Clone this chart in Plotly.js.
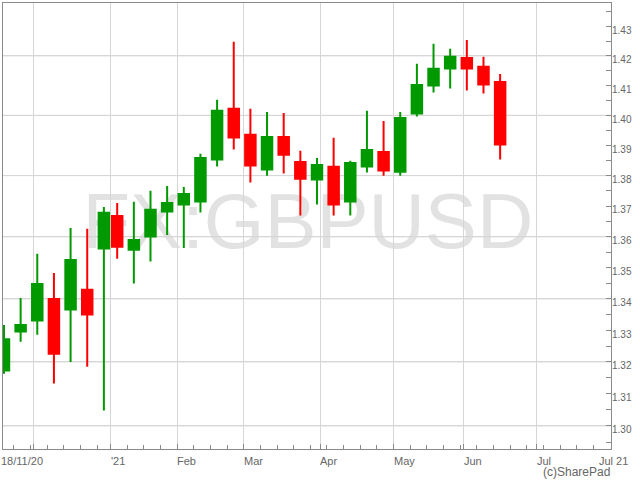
<!DOCTYPE html>
<html>
<head>
<meta charset="utf-8">
<script src="https://cdn.plot.ly/plotly-3.0.1.min.js"></script>
<style>
html,body{margin:0;padding:0;background:#fff;}
#chart{width:640px;height:480px;}
</style>
</head>
<body>
<div id="chart"></div>
<script>
// Weekly GBPUSD candles (each plotted at the Wednesday of its week)
const weekDates = ['2020-11-18','2020-11-25','2020-12-02','2020-12-09','2020-12-16','2020-12-23','2020-12-30',
  '2021-01-06','2021-01-13','2021-01-20','2021-01-27','2021-02-03','2021-02-10','2021-02-17','2021-02-24',
  '2021-03-03','2021-03-10','2021-03-17','2021-03-24','2021-03-31','2021-04-07','2021-04-14','2021-04-21',
  '2021-04-28','2021-05-05','2021-05-12','2021-05-19','2021-05-26','2021-06-02','2021-06-09','2021-06-16'];
const openVals  = [1.3173,1.3296,1.3331,1.3400,1.3366,1.3429,1.3562,1.3668,1.3558,1.3601,1.3682,1.3705,1.3715,1.3853,1.4022,1.3935,1.3820,1.3928,1.3845,1.3787,1.3829,1.3715,1.3830,1.3878,1.3813,1.4006,1.4100,1.4157,1.4193,1.4163,1.4112];
const highVals  = [1.3317,1.3403,1.3545,1.3483,1.3629,1.3626,1.3697,1.3710,1.3714,1.3750,1.3766,1.3763,1.3872,1.4052,1.4248,1.4022,1.4011,1.4008,1.3882,1.3858,1.3925,1.3849,1.4015,1.3981,1.4011,1.4173,1.4241,1.4224,1.4254,1.4197,1.4139];
const lowVals   = [1.3163,1.3264,1.3286,1.3132,1.3200,1.3185,1.3048,1.3529,1.3449,1.3520,1.3606,1.3564,1.3679,1.3830,1.3886,1.3777,1.3800,1.3807,1.3669,1.3705,1.3669,1.3669,1.3810,1.3800,1.3800,1.3996,1.4076,1.4090,1.4083,1.4073,1.3853];
const closeVals = [1.3272,1.3317,1.3448,1.3226,1.3525,1.3350,1.3678,1.3568,1.3590,1.3688,1.3710,1.3740,1.3858,1.4015,1.3926,1.3833,1.3928,1.3869,1.3790,1.3835,1.3705,1.3842,1.3885,1.3817,1.3991,1.4102,1.4156,1.4197,1.4157,1.4103,1.3903];

// Axis labels
const monthTicks  = ['2020-12-01','2021-01-04','2021-02-01','2021-03-01','2021-04-01','2021-05-03','2021-06-01','2021-07-01'];
const monthLabels = ['', "'21", 'Feb', 'Mar', 'Apr', 'May', 'Jun', 'Jul'];
const startLabel = '18/11/20';
const endLabel = 'Jul 21';
const yLabelVals = [1.30,1.31,1.32,1.33,1.34,1.35,1.36,1.37,1.38,1.39,1.40,1.41,1.42,1.43];
const yGridVals  = [1.30,1.32,1.34,1.36,1.38,1.40,1.42];
const watermark = 'FX:GBPUSD';
const credit = '(c)SharePad';

// minor ticks at every half step
const yMinorVals = [];
yLabelVals.forEach(v => { yMinorVals.push(+(v - 0.005).toFixed(3)); yMinorVals.push(v); });
yMinorVals.push(1.435);

const yRange = [Math.log10(1.29287), Math.log10(1.43802)];
const xRange = ['2020-11-17 17:00', '2021-08-02 07:00'];

const GREEN = '#009a00', RED = '#ff0000', LINE = '#8a8a8a', GRID = '#d6d6d6', TXT = '#666666';
const FONT = 'Liberation Sans, Arial, sans-serif';

const candles = {
  type: 'candlestick',
  x: weekDates, open: openVals, high: highVals, low: lowVals, close: closeVals,
  increasing: {line: {color: GREEN, width: 2}, fillcolor: GREEN},
  decreasing: {line: {color: RED, width: 2}, fillcolor: RED},
  whiskerwidth: 0, hoverinfo: 'skip', showlegend: false
};

const annotations = [];
const xLabelY = -0.027;
monthTicks.forEach((d, i) => {
  if (!monthLabels[i]) return;
  annotations.push({xref: 'x', yref: 'paper', x: d, y: xLabelY, xanchor: 'left', yanchor: 'middle', xshift: -1,
    text: monthLabels[i], showarrow: false, borderpad: 0, font: {family: FONT, size: 11, color: TXT}});
});
annotations.push({xref: 'paper', yref: 'paper', x: 0, xshift: -3, y: xLabelY, xanchor: 'left', yanchor: 'middle',
  text: startLabel, showarrow: false, borderpad: 0, font: {family: FONT, size: 11, color: TXT}});
annotations.push({xref: 'paper', yref: 'paper', x: 1, xshift: 18, y: xLabelY, xanchor: 'right', yanchor: 'middle',
  text: endLabel, showarrow: false, borderpad: 0, font: {family: FONT, size: 11, color: TXT}});
annotations.push({xref: 'paper', yref: 'paper', x: 1, y: -0.051, xanchor: 'right', yanchor: 'middle',
  text: credit, showarrow: false, borderpad: 0, font: {family: FONT, size: 12, color: TXT}});
// right-hand price labels (log axis: annotation y is given in log10 units)
yLabelVals.forEach(v => {
  annotations.push({xref: 'paper', yref: 'y', x: 1, y: Math.log10(v), xanchor: 'left', yanchor: 'middle', yshift: -3.7,
    text: v.toFixed(2), showarrow: false, borderpad: 0, font: {family: FONT, size: 10, color: TXT}});
});

const watermarkShape = {
  type: 'rect', xref: 'paper', yref: 'paper', x0: 0.2014, x1: 0.8014, y0: 0.426, y1: 0.626,
  line: {width: 0}, fillcolor: 'rgba(0,0,0,0)', layer: 'below',
  label: {text: watermark, textposition: 'middle center', font: {family: FONT, size: 78, color: '#e2e2e2'}}
};

const layout = {
  width: 640, height: 480,
  margin: {l: 3, r: 29, t: 3, b: 31, pad: 0},
  paper_bgcolor: '#ffffff', plot_bgcolor: '#ffffff',
  showlegend: false,
  boxgap: 0.55, boxgroupgap: 0,
  xaxis: {
    type: 'date', range: xRange,
    rangeslider: {visible: false},
    rangebreaks: [{bounds: ['sat', 'mon']}, {values: ['2021-01-01']}],
    tickmode: 'array', tickvals: monthTicks, showticklabels: false,
    ticks: 'inside', ticklen: 5, tickcolor: LINE, tickwidth: 1,
    showgrid: true, gridcolor: GRID, gridwidth: 1,
    minor: {dtick: 604800000, tick0: '2020-11-23', ticks: 'inside', ticklen: 4, tickcolor: LINE, showgrid: false},
    showline: true, linecolor: LINE, linewidth: 1, mirror: true,
    zeroline: false, fixedrange: true
  },
  yaxis: {
    type: 'log', range: yRange, side: 'right',
    tickmode: 'array', tickvals: yGridVals, showticklabels: false,
    ticks: 'inside', ticklen: 5, tickcolor: LINE, tickwidth: 1,
    showgrid: true, gridcolor: GRID, gridwidth: 1,
    minor: {tickmode: 'array', tickvals: yMinorVals, ticks: 'inside', ticklen: 5, tickcolor: LINE, showgrid: false},
    showline: true, linecolor: LINE, linewidth: 1, mirror: true,
    zeroline: false, fixedrange: true
  },
  shapes: [watermarkShape],
  annotations: annotations
};

Plotly.newPlot('chart', [candles], layout, {staticPlot: true, displayModeBar: false}).then(gd => {
  // horizontal price grid lines, placed through the y axis' own scale
  const ya = gd._fullLayout.yaxis;
  const gridShapes = yGridVals.map(v => {
    const yp = 1 - ya.l2p(ya.d2l(v)) / ya._length;
    return {type: 'line', xref: 'paper', yref: 'paper', x0: 0, x1: 1, y0: yp, y1: yp,
            line: {color: GRID, width: 1}, layer: 'below'};
  });
  return Plotly.relayout(gd, {shapes: [watermarkShape].concat(gridShapes)});
});
</script>
</body>
</html>
